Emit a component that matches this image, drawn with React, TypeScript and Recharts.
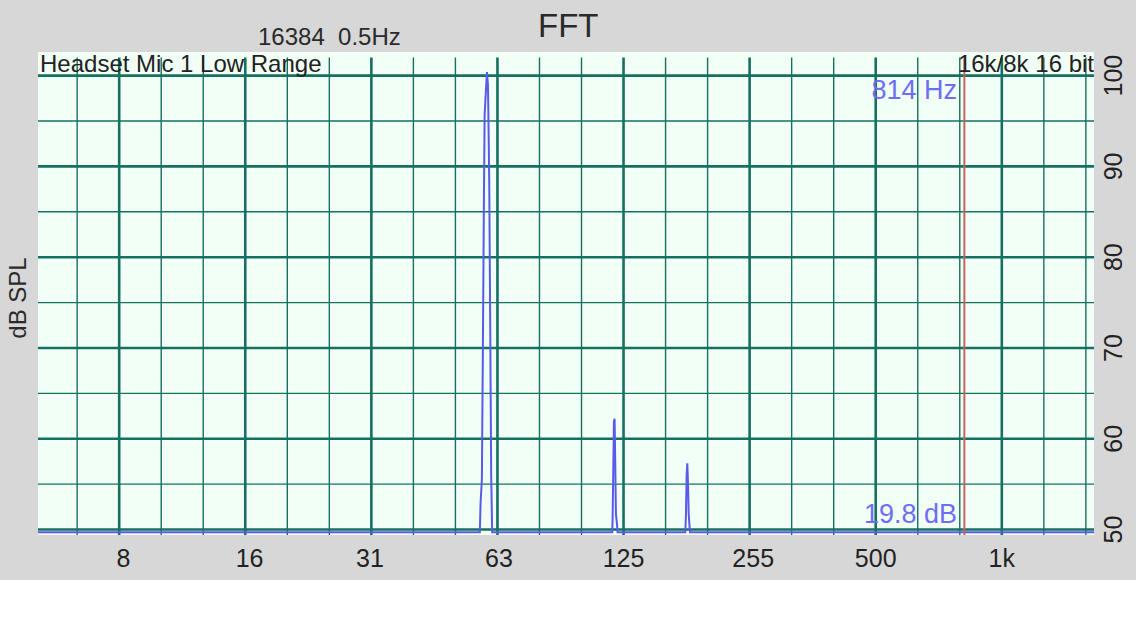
import React from 'react';
import { LineChart, Line, XAxis, YAxis, ReferenceLine, ReferenceArea } from 'recharts';

// frequency span of the view (Hz) and the floor level the trace sits on
const spanHz = [5, 1660];
const floorDb = 49.7;

// main hum peak
const peak1Hz = [56.73, 56.96, 57.38, 57.7, 58.03, 58.25, 58.68, 59.0, 59.32, 59.55, 59.75, 60.07, 60.39, 60.72];
const peak1Db = [49.7, 52.9, 55.6, 70.4, 86.9, 95.7, 98.5, 100.4, 99.0, 93.5, 88.0, 72.2, 55.8, 49.7];

// 2nd harmonic
const peak2Hz = [117.48, 117.69, 118.13, 118.56, 119.0, 119.44, 119.87, 120.52, 120.96];
const peak2Db = [49.7, 50.9, 56.4, 61.9, 62.2, 57.2, 51.7, 50.7, 49.7];

// 3rd harmonic
const peak3Hz = [175.55, 176.2, 176.85, 177.5, 178.15, 178.8, 179.45, 180.1];
const peak3Db = [49.7, 51.8, 56.1, 57.3, 55.1, 51.8, 50.7, 49.7];

const xTickHz = [8, 16, 31, 63, 125, 255, 500, 1000];
const xTickLabels = ['8', '16', '31', '63', '125', '255', '500', '1k'];
const yTicks = [50, 60, 70, 80, 90, 100];
const yGridDb = [50, 55, 60, 65, 70, 75, 80, 85, 90, 95, 100];

const cursorHz = 814;

const yDomain = [49.4, 102.6];
const gridTop = 102;

const FONT = '"Liberation Sans", Arial, Helvetica, sans-serif';
const TEAL = '#16705f';

const pairs = (hz: number[], db: number[]) => hz.map((h, i) => ({ hz: h, db: db[i] }));

const spectrum = [
  { hz: spanHz[0], db: floorDb },
  ...pairs(peak1Hz, peak1Db),
  ...pairs(peak2Hz, peak2Db),
  ...pairs(peak3Hz, peak3Db),
  { hz: spanHz[1], db: floorDb },
];

// 1/3 octave grid referenced to 1 kHz
const thirdOctaves: { hz: number; major: boolean }[] = [];
for (let k = -30; k <= 6; k++) {
  const hz = 1000 * Math.pow(2, k / 3);
  if (hz > spanHz[0] && hz < spanHz[1]) thirdOctaves.push({ hz, major: k % 3 === 0 });
}

const XTick = (props: any) => {
  const { x, y, payload } = props;
  const i = xTickHz.indexOf(payload.value);
  return (
    <text x={x} y={y + 23} textAnchor="middle" dominantBaseline="central" fontSize={25} fill="#222" fontFamily={FONT}>
      {xTickLabels[i]}
    </text>
  );
};

const YTick = (props: any) => {
  const { x, y, payload } = props;
  const cx = x + 19;
  return (
    <text
      x={cx}
      y={y}
      textAnchor="middle"
      dominantBaseline="central"
      transform={`rotate(-90, ${cx}, ${y})`}
      fontSize={25}
      fill="#222"
      fontFamily={FONT}
    >
      {payload.value}
    </text>
  );
};

const abs = (style: React.CSSProperties): React.CSSProperties => ({
  position: 'absolute',
  fontFamily: FONT,
  whiteSpace: 'pre',
  lineHeight: 1,
  ...style,
});

export default function App() {
  return (
    <div style={{ position: 'absolute', left: 0, top: 0, width: 1136, height: 640, background: '#fff' }}>
      <div style={{ position: 'absolute', left: 0, top: 0, width: 1136, height: 580, background: '#d7d7d7' }} />
      <div style={{ position: 'absolute', left: 0, top: 0 }}>
        <LineChart width={1136} height={580} data={spectrum} margin={{ top: 52, left: 38, right: 0, bottom: 0 }}>
          <XAxis
            dataKey="hz"
            type="number"
            scale="log"
            domain={spanHz}
            allowDataOverflow
            ticks={xTickHz}
            tick={<XTick />}
            tickSize={0}
            tickMargin={0}
            axisLine={false}
            tickLine={false}
            height={45}
            interval={0}
          />
          <YAxis
            orientation="right"
            type="number"
            domain={yDomain}
            allowDataOverflow
            ticks={yTicks}
            tick={<YTick />}
            tickSize={0}
            tickMargin={0}
            axisLine={false}
            tickLine={false}
            width={42}
            interval={0}
          />
          <ReferenceArea x1={spanHz[0]} x2={spanHz[1]} y1={yDomain[0]} y2={yDomain[1]} fill="#f1fff7" fillOpacity={1} stroke="none" />
          {yGridDb.map((d) => (
            <ReferenceLine key={'h' + d} y={d} stroke={TEAL} strokeWidth={d % 10 === 0 ? 2.6 : 1.4} />
          ))}
          {thirdOctaves.map((g) => (
            <ReferenceLine
              key={'v' + g.hz}
              segment={[{ x: g.hz, y: yDomain[0] }, { x: g.hz, y: gridTop }]}
              stroke={TEAL}
              strokeWidth={g.major ? 2.6 : 1.4}
            />
          ))}
          <Line dataKey="db" type="linear" stroke="#5a5ae8" strokeWidth={2} dot={false} isAnimationActive={false} />
          <ReferenceLine
            segment={[{ x: cursorHz, y: yDomain[0] }, { x: cursorHz, y: gridTop }]}
            stroke="#c8625e"
            strokeWidth={2}
          />
        </LineChart>
      </div>
      <div style={abs({ left: 538, top: 9, fontSize: 33, color: '#2a2a2a' })}>FFT</div>
      <div style={abs({ left: 258, top: 25, fontSize: 24, color: '#2a2a2a' })}>{'16384  0.5Hz'}</div>
      <div
        style={abs({
          left: 18,
          top: 298,
          fontSize: 24,
          color: '#2a2a2a',
          transform: 'translate(-50%, -50%) rotate(-90deg)',
        })}
      >
        dB SPL
      </div>
      <div style={abs({ left: 40, top: 52, fontSize: 24, color: '#222' })}>Headset Mic 1 Low Range</div>
      <div style={abs({ right: 1136 - 1094, top: 52, fontSize: 24, color: '#222' })}>16k/8k 16 bit</div>
      <div style={abs({ right: 1136 - 957, top: 77, fontSize: 27, color: '#6e6ef2' })}>814 Hz</div>
      <div style={abs({ right: 1136 - 957, top: 501, fontSize: 27, color: '#6e6ef2' })}>19.8 dB</div>
    </div>
  );
}
